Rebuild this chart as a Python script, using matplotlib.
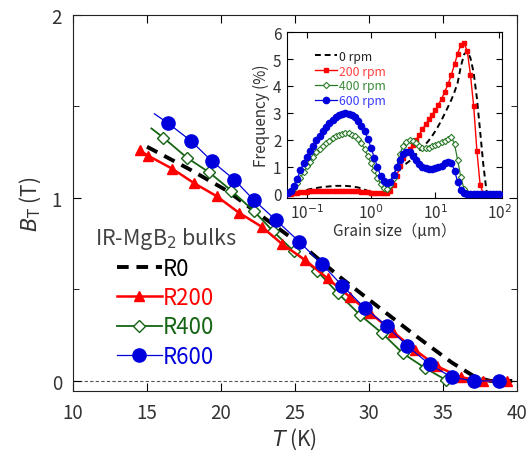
import numpy as np
import matplotlib
matplotlib.use("Agg")
import matplotlib.pyplot as plt

plt.rcParams['font.family'] = ['Noto Sans CJK JP', 'DejaVu Sans']
plt.rcParams['axes.unicode_minus'] = False

# ---- main panel: trapped field vs temperature ----
t_r0 = [15.0, 17.8, 20.4, 23.1, 25.8, 28.0, 30.7, 33.1, 35.6, 37.2, 38.2, 40.0]
b_r0 = [1.28, 1.16, 1.04, 0.88, 0.72, 0.57, 0.40, 0.25, 0.10, 0.02, 0.0, 0.0]

t_r200 = [14.5, 15.1, 16.7, 18.2, 19.7, 21.2, 22.8, 24.1, 25.7, 27.2, 28.7, 30.1,
          31.6, 33.1, 34.6, 36.2, 37.7, 39.3]
b_r200 = [1.26, 1.23, 1.16, 1.08, 1.01, 0.92, 0.84, 0.75, 0.66, 0.56, 0.46, 0.37,
          0.27, 0.17, 0.08, 0.02, 0.0, 0.0]

t_r400 = [15.3, 16.1, 17.7, 19.2, 20.7, 22.2, 23.5, 24.9, 26.5, 27.9, 29.4, 30.9,
          32.3, 33.8, 35.2, 37.0, 38.7]
b_r400 = [1.38, 1.33, 1.22, 1.14, 1.04, 0.93, 0.82, 0.71, 0.60, 0.48, 0.36, 0.26,
          0.15, 0.07, 0.005, 0.0, 0.0]

t_r600 = [15.5, 16.4, 18.0, 19.4, 20.9, 22.2, 23.7, 25.3, 26.8, 28.2, 29.7, 31.2,
          32.6, 34.1, 35.6, 37.1, 38.8]
b_r600 = [1.46, 1.41, 1.31, 1.20, 1.10, 0.99, 0.88, 0.76, 0.64, 0.52, 0.40, 0.30,
          0.19, 0.09, 0.02, 0.0, 0.0]

# ---- inset: grain size distribution ----
grain = [0.050, 0.056, 0.063, 0.071, 0.079, 0.089, 0.100, 0.112, 0.126, 0.141,
         0.158, 0.178, 0.200, 0.224, 0.251, 0.282, 0.316, 0.355, 0.398, 0.447,
         0.501, 0.562, 0.631, 0.708, 0.794, 0.891, 1.00, 1.12, 1.26, 1.41,
         1.58, 1.78, 2.00, 2.24, 2.51, 2.82, 3.16, 3.55, 3.98, 4.47,
         5.01, 5.62, 6.31, 7.08, 7.94, 8.91, 10.0, 11.2, 12.6, 14.1,
         15.8, 17.8, 20.0, 22.4, 25.1, 28.2, 31.6, 35.5, 39.8, 44.7,
         50.1, 56.2, 63.1, 70.8, 79.4, 89.1, 100.0]

f_0rpm = [0.0, 0.01, 0.03, 0.06, 0.09, 0.12, 0.15, 0.18, 0.20, 0.22,
          0.24, 0.26, 0.27, 0.28, 0.29, 0.30, 0.30, 0.30, 0.30, 0.29,
          0.28, 0.26, 0.24, 0.20, 0.16, 0.11, 0.07, 0.04, 0.02, 0.01,
          0.02, 0.05, 0.15, 0.38, 0.68, 0.90, 1.05, 1.13, 1.22, 1.35,
          1.47, 1.59, 1.72, 1.84, 1.98, 2.14, 2.32, 2.52, 2.74, 2.98,
          3.22, 3.48, 3.78, 4.12, 4.72, 5.17, 5.29, 5.03, 4.49, 3.55,
          2.34, 1.10, 0.10, 0.0, 0.0, 0.0, 0.0]

f_200rpm = [0.0, 0.01, 0.03, 0.05, 0.07, 0.08, 0.09, 0.10, 0.10, 0.11,
            0.11, 0.11, 0.12, 0.12, 0.12, 0.12, 0.12, 0.12, 0.12, 0.12,
            0.11, 0.11, 0.10, 0.09, 0.08, 0.06, 0.04, 0.03, 0.02, 0.02,
            0.03, 0.03, 0.10, 0.32, 0.66, 1.02, 1.32, 1.50, 1.65, 1.81,
            1.99, 2.19, 2.39, 2.58, 2.76, 2.93, 3.11, 3.31, 3.52, 3.78,
            4.06, 4.40, 4.80, 5.20, 5.52, 5.58, 5.30, 4.40, 3.26, 1.60,
            0.35, 0.01, 0.0, 0.0, 0.0, 0.0, 0.0]

f_400rpm = [0.02, 0.10, 0.22, 0.40, 0.60, 0.80, 1.02, 1.20, 1.38, 1.56,
            1.68, 1.79, 1.88, 1.98, 2.06, 2.13, 2.19, 2.23, 2.26, 2.24,
            2.19, 2.13, 2.02, 1.87, 1.66, 1.40, 1.14, 0.87, 0.60, 0.38,
            0.22, 0.18, 0.32, 0.60, 1.00, 1.49, 1.78, 1.94, 2.01, 1.97,
            1.87, 1.76, 1.71, 1.69, 1.70, 1.76, 1.81, 1.86, 1.91, 1.96,
            2.04, 2.12, 1.85, 1.25, 0.62, 0.18, 0.02, 0.0, 0.0, 0.0,
            0.0, 0.0, 0.0, 0.0, 0.0, 0.0, 0.0]

f_600rpm = [0.03, 0.12, 0.30, 0.57, 0.87, 1.13, 1.37, 1.59, 1.79, 1.99,
            2.16, 2.33, 2.48, 2.62, 2.74, 2.84, 2.93, 2.97, 2.99, 2.98,
            2.93, 2.84, 2.70, 2.53, 2.33, 2.05, 1.71, 1.35, 1.00, 0.67,
            0.47, 0.40, 0.46, 0.70, 1.00, 1.27, 1.47, 1.57, 1.55, 1.41,
            1.25, 1.10, 1.01, 0.96, 0.93, 0.93, 0.96, 0.99, 1.05, 1.13,
            1.20, 1.16, 0.86, 0.45, 0.15, 0.03, 0.0, 0.0, 0.0, 0.0,
            0.0, 0.0, 0.0, 0.0, 0.0, 0.0, 0.0]

RED = '#ff0000'
GREEN = '#146414'
BLUE = '#0000dc'
TXT = '#333333'

fig = plt.figure(figsize=(5.32, 4.56), dpi=100)
ax = fig.add_axes([0.1372, 0.1404, 0.8346, 0.8245])

ax.axhline(0, color='#555555', lw=0.8, ls=(0, (3, 2)), zorder=1)
ax.plot(t_r0, b_r0, color='black', lw=2.8, dashes=(3, 2), label='R0', zorder=3)
ax.plot(t_r400, b_r400, color=GREEN, lw=1.3, marker='D', ms=6, mfc='white',
        mec=GREEN, mew=1.0, markevery=list(range(1, len(t_r400))), label='R400', zorder=4)
ax.plot(t_r200, b_r200, color=RED, lw=1.8, marker='^', ms=7.5, mec=RED,
        label='R200', zorder=5)
ax.plot(t_r600, b_r600, color=BLUE, lw=0.9, marker='o', ms=9.5, mec=BLUE,
        markevery=list(range(1, len(t_r600))), label='R600', zorder=6)

ax.set_xlim(10, 40)
ax.set_ylim(-0.055, 2.0)
ax.set_xticks([10, 15, 20, 25, 30, 35, 40])
ax.set_yticks([0, 1, 2])
ax.set_yticks([0.5, 1.5], minor=True)
ax.tick_params(which='both', direction='in', top=True, right=True,
               labelsize=13.5, labelcolor=TXT, pad=8)
ax.tick_params(which='major', length=6)
ax.tick_params(which='minor', length=4)
ax.set_xlabel('$T$ (K)', fontsize=15, color=TXT, labelpad=2)
ax.set_ylabel(r'$B_\mathrm{T}$ (T)', fontsize=15, color=TXT, labelpad=6)
for s in ax.spines.values():
    s.set_color('#222222')

h, l = ax.get_legend_handles_labels()
order = [l.index(k) for k in ['R0', 'R200', 'R400', 'R600']]
leg = ax.legend([h[i] for i in order], [l[i] for i in order],
                title='IR-MgB$_2$ bulks', title_fontsize=15.5, fontsize=16,
                frameon=False, loc='upper left',
                bbox_to_anchor=(0.178, 0.505), bbox_transform=fig.transFigure,
                handlelength=2.0, handletextpad=0.06, labelspacing=0.28,
                borderpad=0, borderaxespad=0)
leg.get_title().set_color('#444444')
for txt, c in zip(leg.get_texts(), ['black', RED, GREEN, BLUE]):
    txt.set_color(c)

# ---- inset ----
ins = fig.add_axes([0.5395, 0.5636, 0.4041, 0.364])
ins.plot(grain, f_0rpm, color='black', lw=1.4, dashes=(3, 2), label='0 rpm', zorder=2)
ins.plot(grain, f_200rpm, color=RED, lw=1.0, marker='s', ms=3.2, label='200 rpm', zorder=3)
ins.plot(grain, f_400rpm, color='#2a7a2a', lw=0.9, marker='D', ms=3.2, mfc='white',
         mec='#2a7a2a', mew=0.8, label='400 rpm', zorder=4)
ins.plot(grain, f_600rpm, color=BLUE, lw=0.9, marker='o', ms=4.5, label='600 rpm', zorder=5)
ins.set_xscale('log')
ins.set_xlim(0.049, 110)
ins.set_ylim(-0.15, 6.0)
ins.set_yticks([0, 1, 2, 3, 4, 5, 6])
ins.set_xticks([0.1, 1, 10, 100])
ins.set_xticklabels(['10$^{-1}$', '10$^{0}$', '10$^{1}$', '10$^{2}$'])
ins.xaxis.set_minor_locator(matplotlib.ticker.NullLocator())
ins.tick_params(which='both', direction='in', top=True, right=True,
                labelsize=11, labelcolor=TXT, length=4, pad=4)
ins.set_xlabel('Grain size（μm）', fontsize=11, color=TXT, labelpad=0)
ins.set_ylabel('Frequency (%)', fontsize=11, color=TXT, labelpad=2)
ileg = ins.legend(fontsize=8.8, frameon=False, loc='upper left',
                  bbox_to_anchor=(0.1, 0.93), handlelength=1.8,
                  handletextpad=0.2, labelspacing=0.15, borderpad=0)
for txt, c in zip(ileg.get_texts(), ['#222222', '#ff4040', '#3a8a3a', '#3a3aff']):
    txt.set_color(c)

fig.savefig('out.png', dpi=100)
